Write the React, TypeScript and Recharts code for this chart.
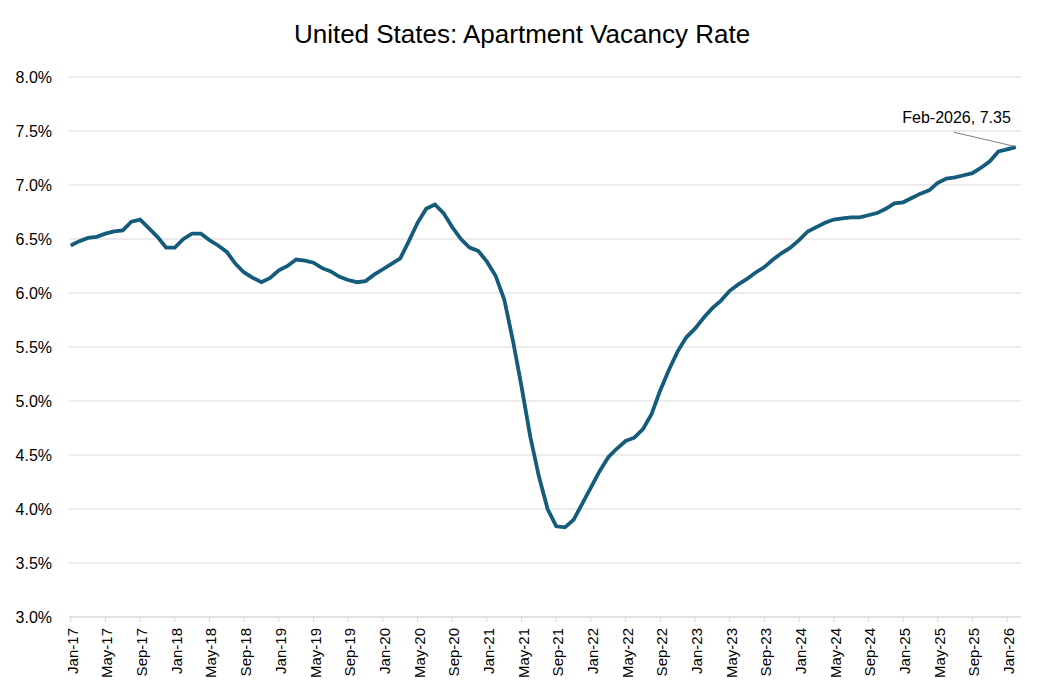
import React from 'react';
import { LineChart, Line, XAxis, YAxis, CartesianGrid, LabelList } from 'recharts';

const MONTHS = ['Jan', 'Feb', 'Mar', 'Apr', 'May', 'Jun', 'Jul', 'Aug', 'Sep', 'Oct', 'Nov', 'Dec'];
const YEARS = [2017, 2018, 2019, 2020, 2021, 2022, 2023, 2024, 2025, 2026];

const VACANCY_2017 = [6.44, 6.48, 6.51, 6.52, 6.55, 6.57, 6.58, 6.66, 6.68, 6.6, 6.52, 6.42];
const VACANCY_2018 = [6.42, 6.5, 6.55, 6.55, 6.49, 6.44, 6.38, 6.27, 6.19, 6.14, 6.1, 6.14];
const VACANCY_2019 = [6.21, 6.25, 6.31, 6.3, 6.28, 6.23, 6.2, 6.15, 6.12, 6.1, 6.11, 6.17];
const VACANCY_2020 = [6.22, 6.27, 6.32, 6.48, 6.65, 6.78, 6.82, 6.74, 6.61, 6.5, 6.42, 6.39];
const VACANCY_2021 = [6.29, 6.16, 5.94, 5.56, 5.13, 4.67, 4.3, 4.0, 3.84, 3.83, 3.9, 4.05];
const VACANCY_2022 = [4.2, 4.35, 4.48, 4.56, 4.63, 4.66, 4.74, 4.88, 5.1, 5.29, 5.46, 5.59];
const VACANCY_2023 = [5.67, 5.77, 5.86, 5.93, 6.02, 6.08, 6.13, 6.19, 6.24, 6.31, 6.37, 6.42];
const VACANCY_2024 = [6.49, 6.57, 6.61, 6.65, 6.68, 6.69, 6.7, 6.7, 6.72, 6.74, 6.78, 6.83];
const VACANCY_2025 = [6.84, 6.88, 6.92, 6.95, 7.02, 7.06, 7.07, 7.09, 7.11, 7.16, 7.22, 7.31];
const VACANCY_2026 = [7.33, 7.35];

const SERIES_BY_YEAR = [
  VACANCY_2017, VACANCY_2018, VACANCY_2019, VACANCY_2020, VACANCY_2021,
  VACANCY_2022, VACANCY_2023, VACANCY_2024, VACANCY_2025, VACANCY_2026,
];

const Y_TICKS = [3, 3.5, 4, 4.5, 5, 5.5, 6, 6.5, 7, 7.5, 8];
const TITLE = 'United States: Apartment Vacancy Rate';

type Row = { i: number; label: string; full: string; value: number };
const data: Row[] = [];
SERIES_BY_YEAR.forEach((vals, yi) => {
  vals.forEach((v, mi) => {
    const yr = YEARS[yi];
    data.push({
      i: data.length,
      label: `${MONTHS[mi]}-${String(yr).slice(2)}`,
      full: `${MONTHS[mi]}-${yr}`,
      value: v,
    });
  });
});
const LAST = data.length - 1;
const X_TICKS = data.filter((d) => d.i % 4 === 0).map((d) => d.i);

const FONT = '"Liberation Sans", Arial, sans-serif';
const LINE_COLOR = '#155b7c';

const XTick = (props: any) => {
  const { x, y, payload } = props;
  const row = data[payload.value];
  return (
    <g transform={`translate(${x},${y})`}>
      <text transform="rotate(-90)" x={0} y={0} dy={7} textAnchor="end" fontSize={15} fill="#000" fontFamily={FONT}>
        {row ? row.label : ''}
      </text>
    </g>
  );
};

const EndLabel = (props: any) => {
  const { x, y, index } = props;
  if (index !== LAST) return null;
  const row = data[LAST];
  return (
    <g>
      <line x1={x - 62} y1={y - 15} x2={x - 2} y2={y - 1} stroke="#7f7f7f" strokeWidth={1} />
      <text x={x - 5} y={y - 24} textAnchor="end" fontSize={16} fill="#000" fontFamily={FONT}>
        {`${row.full}, ${row.value.toFixed(2)}`}
      </text>
    </g>
  );
};

export default function App() {
  return (
    <div style={{ position: 'absolute', left: 0, top: 0, width: 1044, height: 698, background: '#fff' }}>
      <div
        style={{
          position: 'absolute',
          left: 0,
          top: 21,
          width: 1044,
          textAlign: 'center',
          fontFamily: FONT,
          fontSize: 26,
          lineHeight: '26px',
          color: '#000',
        }}
      >
        {TITLE}
      </div>
      <LineChart width={1044} height={698} data={data} margin={{ top: 77, right: 23, bottom: 0, left: 0 }}>
        <CartesianGrid horizontal vertical={false} stroke="#d9d9d9" strokeWidth={1} />
        <XAxis
          dataKey="i"
          type="number"
          domain={[-0.2, 109.6]}
          ticks={X_TICKS}
          interval={0}
          height={81}
          tick={<XTick />}
          tickSize={5}
          tickMargin={6}
          axisLine={{ stroke: '#d9d9d9' }}
          tickLine={{ stroke: '#d9d9d9' }}
          allowDataOverflow
        />
        <YAxis
          type="number"
          domain={[3, 8]}
          ticks={Y_TICKS}
          width={69}
          axisLine={false}
          tickLine={false}
          tickSize={0}
          tickMargin={17}
          interval={0}
          tickFormatter={(v: number) => `${v.toFixed(1)}%`}
          tick={{ fontSize: 16, fill: '#000', fontFamily: FONT }}
        />
        <Line
          type="linear"
          dataKey="value"
          stroke={LINE_COLOR}
          strokeWidth={3.8}
          dot={false}
          activeDot={false}
          isAnimationActive={false}
        >
          <LabelList dataKey="value" content={<EndLabel />} />
        </Line>
      </LineChart>
    </div>
  );
}
